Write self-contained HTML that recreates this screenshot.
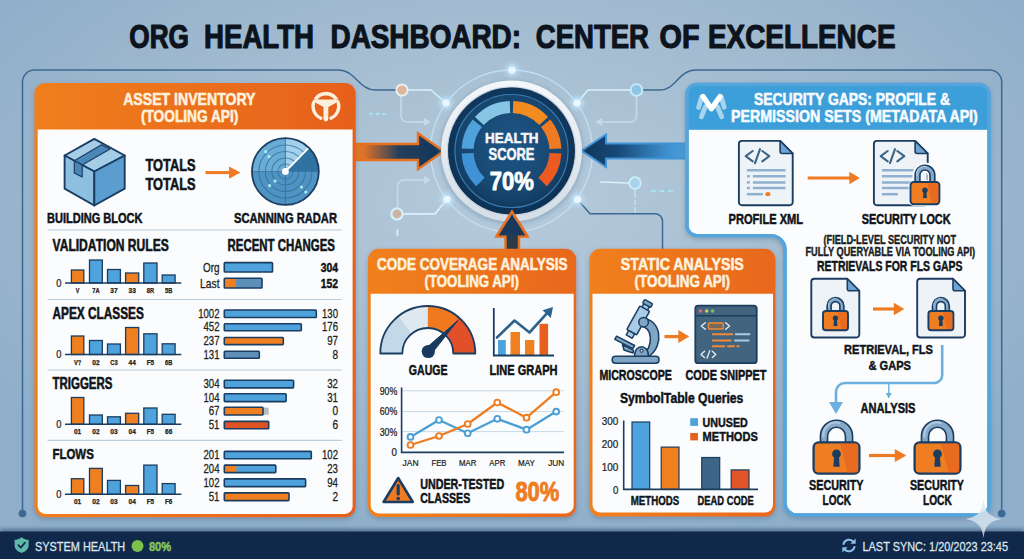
<!DOCTYPE html>
<html><head><meta charset="utf-8"><title>Org Health Dashboard</title>
<style>html,body{margin:0;padding:0;background:#9fb8cc;overflow:hidden}svg{display:block}text{font-family:"Liberation Sans",sans-serif}</style>
</head><body>
<svg width="1024" height="559" viewBox="0 0 1024 559" font-family="Liberation Sans, sans-serif">
<defs>
<radialGradient id="bg" cx="50%" cy="36%" r="62%"><stop offset="0" stop-color="#b6cbdc"/><stop offset="0.35" stop-color="#aac1d4"/><stop offset="0.75" stop-color="#9ab5cc"/><stop offset="1" stop-color="#8eaeca"/></radialGradient>
<linearGradient id="og" x1="0" y1="0" x2="1" y2="0"><stop offset="0" stop-color="#f07f1c"/><stop offset="1" stop-color="#e6601f"/></linearGradient>
<linearGradient id="og2" x1="0" y1="0" x2="1" y2="0"><stop offset="0" stop-color="#f0801d"/><stop offset="1" stop-color="#e8681e"/></linearGradient>
<linearGradient id="larrow" x1="0" y1="0" x2="1" y2="0"><stop offset="0" stop-color="#ee7a22"/><stop offset="0.12" stop-color="#d9702a"/><stop offset="0.5" stop-color="#24405c"/><stop offset="1" stop-color="#0f3559"/></linearGradient>
<linearGradient id="rarrow" x1="0" y1="0" x2="1" y2="0"><stop offset="0" stop-color="#0f3559"/><stop offset="0.35" stop-color="#174a7a"/><stop offset="0.8" stop-color="#3f8fce"/><stop offset="1" stop-color="#4aa0dc"/></linearGradient>
<radialGradient id="disc" cx="50%" cy="45%" r="55%"><stop offset="0" stop-color="#1e5787"/><stop offset="0.7" stop-color="#17466f"/><stop offset="1" stop-color="#0f3457"/></radialGradient>
<linearGradient id="ring" x1="0" y1="0" x2="0" y2="1"><stop offset="0" stop-color="#f4f7fa"/><stop offset="1" stop-color="#d3dde6"/></linearGradient>
<linearGradient id="uarrow" x1="0" y1="0" x2="0" y2="1"><stop offset="0" stop-color="#173a5e"/><stop offset="0.55" stop-color="#223c55"/><stop offset="1" stop-color="#33383d"/></linearGradient>
<filter id="sh" x="-5%" y="-5%" width="110%" height="112%"><feDropShadow dx="0" dy="2" stdDeviation="2.5" flood-color="#3a5570" flood-opacity="0.35"/></filter>
<filter id="glow" x="-100%" y="-100%" width="300%" height="300%"><feGaussianBlur stdDeviation="2"/></filter>
<filter id="soft" x="-5%" y="-5%" width="110%" height="110%"><feGaussianBlur stdDeviation="0.35"/></filter>
</defs>
<rect width="1024" height="559" fill="url(#bg)"/>
<text x="129.30" y="48.10" font-size="34" font-weight="bold" fill="#0c131d" text-anchor="start" textLength="59.70" lengthAdjust="spacingAndGlyphs" stroke="#0c131d" stroke-width="1.19" stroke-linejoin="round" >ORG</text>
<text x="204.00" y="48.10" font-size="34" font-weight="bold" fill="#0c131d" text-anchor="start" textLength="110.00" lengthAdjust="spacingAndGlyphs" stroke="#0c131d" stroke-width="1.19" stroke-linejoin="round" >HEALTH</text>
<text x="330.50" y="48.10" font-size="34" font-weight="bold" fill="#0c131d" text-anchor="start" textLength="190.50" lengthAdjust="spacingAndGlyphs" stroke="#0c131d" stroke-width="1.19" stroke-linejoin="round" >DASHBOARD:</text>
<text x="535.80" y="48.10" font-size="34" font-weight="bold" fill="#0c131d" text-anchor="start" textLength="113.20" lengthAdjust="spacingAndGlyphs" stroke="#0c131d" stroke-width="1.19" stroke-linejoin="round" >CENTER</text>
<text x="659.50" y="48.10" font-size="34" font-weight="bold" fill="#0c131d" text-anchor="start" textLength="40.00" lengthAdjust="spacingAndGlyphs" stroke="#0c131d" stroke-width="1.19" stroke-linejoin="round" >OF</text>
<text x="708.00" y="48.10" font-size="34" font-weight="bold" fill="#0c131d" text-anchor="start" textLength="187.50" lengthAdjust="spacingAndGlyphs" stroke="#0c131d" stroke-width="1.19" stroke-linejoin="round" >EXCELLENCE</text>
<path d="M22.5,513.5 V82 A12,12 0 0 1 34.5,70 H338 C356,70 358,90 376,90 H396.5" fill="none" stroke="#3b6993" stroke-width="1.5"/>
<circle cx="22.5" cy="513.5" r="3.8" fill="#3b6993"/>
<path d="M642.5,90 H660 C676,90 678,70 696,70 H989.7 A12,12 0 0 1 1001.7,82 V513.5" fill="none" stroke="#3b6993" stroke-width="1.5"/>
<circle cx="1001.7" cy="513.5" r="3.8" fill="#3b6993"/>
<path d="M577.5,199.5 L590,213.7 H655 A7.5,7.5 0 0 1 662.5,221 V250" fill="none" stroke="#3b6993" stroke-width="1.5"/>
<circle cx="511.5" cy="151" r="81" fill="none" stroke="#c3e3f6" stroke-width="1.4" opacity="0.85"/>
<path d="M408,90 H431 L446,103" fill="none" stroke="#d9f1fb" stroke-width="1.6"/>
<path d="M630,90 H588 L577,103" fill="none" stroke="#d9f1fb" stroke-width="1.6"/>
<path d="M403,213.9 H435 L447,199.5" fill="none" stroke="#d9f1fb" stroke-width="1.8"/>
<path d="M600,182 L629,183" fill="none" stroke="#d9f1fb" stroke-width="1.6"/>
<path d="M635,189 V213" fill="none" stroke="#bfe8f5" stroke-width="1.3" stroke-dasharray="9 2 5 2"/>
<path d="M397.4,229.5 V235.8" fill="none" stroke="#c9f3fa" stroke-width="2"/>
<path d="M401,96 V116 A6,6 0 0 0 407,122 H426" fill="none" stroke="#c6dbea" stroke-width="1.6"/>
<path d="M430.8,122 l-7,-4.2 v8.4 z" fill="#c6dbea"/>
<path d="M397.6,207 V186 A6,6 0 0 1 403.6,180 H425" fill="none" stroke="#c6dbea" stroke-width="1.6"/>
<path d="M430.8,180 l-7,-4.2 v8.4 z" fill="#c6dbea"/>
<path d="M636.5,96 V116 A6,6 0 0 1 630.5,122 H600" fill="none" stroke="#c6dbea" stroke-width="1.6"/>
<path d="M595.2,122 l7,-4.2 v8.4 z" fill="#c6dbea"/>
<rect x="369" y="112.7" width="4" height="2.2" rx="1" fill="#a5e3f2"/>
<rect x="375.5" y="112.7" width="4" height="2.2" rx="1" fill="#a5e3f2"/>
<rect x="382" y="112.7" width="4" height="2.2" rx="1" fill="#a5e3f2"/>
<rect x="651" y="190" width="5" height="2.2" rx="1" fill="#a5e3f2"/>
<rect x="659.5" y="190" width="5" height="2.2" rx="1" fill="#a5e3f2"/>
<rect x="668" y="190" width="5" height="2.2" rx="1" fill="#a5e3f2"/>
<circle cx="402" cy="90" r="5.6" fill="#dcb59c" stroke="#e6eef0" stroke-width="2"/>
<circle cx="397" cy="213.9" r="5.6" fill="#cdb3a4" stroke="#d3f3fb" stroke-width="2.2"/>
<circle cx="636.5" cy="90" r="5.8" fill="#8fc3e3" stroke="#c9ecfa" stroke-width="1.8"/>
<circle cx="635" cy="183" r="5.8" fill="#a9d3ea" stroke="#c9f0fa" stroke-width="1.8"/>
<circle cx="446" cy="103" r="6.5" fill="#bfe4fb" filter="url(#glow)" opacity="0.9"/>
<circle cx="446" cy="103" r="3.6" fill="#eaf7ff"/>
<circle cx="577" cy="103" r="6.5" fill="#bfe4fb" filter="url(#glow)" opacity="0.9"/>
<circle cx="577" cy="103" r="3.6" fill="#eaf7ff"/>
<circle cx="512" cy="70" r="6.5" fill="#bfe4fb" filter="url(#glow)" opacity="0.9"/>
<circle cx="512" cy="70" r="3.6" fill="#eaf7ff"/>
<circle cx="447" cy="199.5" r="6.5" fill="#bfe4fb" filter="url(#glow)" opacity="0.9"/>
<circle cx="447" cy="199.5" r="3.6" fill="#eaf7ff"/>
<circle cx="577.5" cy="199.5" r="6.5" fill="#bfe4fb" filter="url(#glow)" opacity="0.9"/>
<circle cx="577.5" cy="199.5" r="3.6" fill="#eaf7ff"/>
<path d="M354,144 H418 V133.2 L443.5,151.3 L418,169.2 V160 H354 Z" fill="url(#larrow)" stroke="#e8701f" stroke-width="2.4" stroke-linejoin="miter"/>
<path d="M688,143.5 H606 V134.5 L581.5,150.7 L606,167 V158.5 H688 Z" fill="url(#rarrow)" stroke="#3f93d6" stroke-width="2" stroke-linejoin="miter"/>
<path d="M505.5,252 V236.5 H496.5 L512,211.5 L527.5,236.5 H519 V252 Z" fill="url(#uarrow)" stroke="#e8701f" stroke-width="2.4" stroke-linejoin="miter"/>
<circle cx="511.5" cy="152.5" r="72" fill="#5f7f9c" opacity="0.35" filter="url(#glow)"/>
<circle cx="511.5" cy="151" r="70.5" fill="url(#ring)"/>
<circle cx="511.5" cy="151" r="64.6" fill="#c3d0dc"/>
<circle cx="511.5" cy="151" r="63.4" fill="url(#disc)"/>
<circle cx="511.5" cy="151" r="60" fill="none" stroke="#0d3052" stroke-width="6.5" opacity="0.55"/>
<circle cx="511.5" cy="151" r="56.5" fill="none" stroke="#3b82b8" stroke-width="1.2" opacity="0.9"/>
<path d="M480.39,182.11 A44,44 0 0 1 467.56,153.30" fill="none" stroke="#3f93d4" stroke-width="12" />
<path d="M467.56,148.70 A44,44 0 0 1 477.31,123.31" fill="none" stroke="#4fa2dc" stroke-width="12" />
<path d="M479.32,120.99 A44,44 0 0 1 509.96,107.03" fill="none" stroke="#86c6e4" stroke-width="12" />
<path d="M513.04,107.03 A44,44 0 0 1 543.68,120.99" fill="none" stroke="#f28c1f" stroke-width="12" />
<path d="M545.69,123.31 A44,44 0 0 1 555.44,148.70" fill="none" stroke="#f07a22" stroke-width="12" />
<path d="M555.44,153.30 A44,44 0 0 1 542.61,182.11" fill="none" stroke="#ea5b22" stroke-width="12" />
<text x="511.80" y="142.60" font-size="15.4" font-weight="bold" fill="#f4f7fa" text-anchor="middle" textLength="53.50" lengthAdjust="spacingAndGlyphs" stroke="#f4f7fa" stroke-width="0.54" stroke-linejoin="round" >HEALTH</text>
<text x="511.50" y="160.00" font-size="15.6" font-weight="bold" fill="#f4f7fa" text-anchor="middle" textLength="46.00" lengthAdjust="spacingAndGlyphs" stroke="#f4f7fa" stroke-width="0.55" stroke-linejoin="round" >SCORE</text>
<text x="511.80" y="190.00" font-size="25.5" font-weight="bold" fill="#ffffff" text-anchor="middle" textLength="44.00" lengthAdjust="spacingAndGlyphs" stroke="#ffffff" stroke-width="0.89" stroke-linejoin="round" >70%</text>
<path d="M498.8,235.3 L512,214 L525.2,235.3 Z" fill="#193a5c"/>
<path d="M496.5,236.5 L512,211.5 L527.5,236.5" fill="none" stroke="#e8701f" stroke-width="2.4"/>
<rect x="34.4" y="82.9" width="321.3" height="434.4" rx="11" fill="url(#og)" filter="url(#sh)"/>
<path d="M37.7,129.6 H352.6 V506.0 A8,8 0 0 1 344.6,514.0 H45.7 A8,8 0 0 1 37.7,506.0 Z" fill="#fbfcfd"/>
<rect x="368" y="248.8" width="208.20000000000005" height="268.2" rx="11" fill="url(#og2)" filter="url(#sh)"/>
<path d="M370.7,293.8 H573.7 V505.4 A8,8 0 0 1 565.7,513.4 H378.7 A8,8 0 0 1 370.7,505.4 Z" fill="#fbfcfd"/>
<rect x="589.5" y="248.8" width="186.0" height="267.8" rx="11" fill="url(#og2)" filter="url(#sh)"/>
<path d="M592.5,293.8 H773 V504.6 A8,8 0 0 1 765,512.6 H600.5 A8,8 0 0 1 592.5,504.6 Z" fill="#fbfcfd"/>
<clipPath id="Lc"><path d="M697,84.5 H979 A10,10 0 0 1 989,94.5 V505 A10,10 0 0 1 979,515 H797 A12,12 0 0 1 785,503 V249.6 A14,14 0 0 0 771,235.6 H697 A10,10 0 0 1 687,225.6 V94.5 A10,10 0 0 1 697,84.5 Z"/></clipPath>
<path d="M697,84.5 H979 A10,10 0 0 1 989,94.5 V505 A10,10 0 0 1 979,515 H797 A12,12 0 0 1 785,503 V249.6 A14,14 0 0 0 771,235.6 H697 A10,10 0 0 1 687,225.6 V94.5 A10,10 0 0 1 697,84.5 Z" fill="#fbfcfd" stroke="#5aa8dd" stroke-width="3.4" filter="url(#sh)"/>
<rect x="685" y="83" width="306" height="46.8" fill="#3d9fd9" clip-path="url(#Lc)"/>
<path d="M697,84.5 H979 A10,10 0 0 1 989,94.5 V505 A10,10 0 0 1 979,515 H797 A12,12 0 0 1 785,503 V249.6 A14,14 0 0 0 771,235.6 H697 A10,10 0 0 1 687,225.6 V94.5 A10,10 0 0 1 697,84.5 Z" fill="none" stroke="#55a5dc" stroke-width="3.4"/>
<rect x="0" y="529.5" width="1024" height="4" fill="#10294a" filter="url(#glow)" opacity="0.6"/>
<rect x="0" y="531.5" width="1024" height="28" fill="#10294a"/>
<text x="123.20" y="104.50" font-size="16.2" font-weight="bold" fill="#fdf1de" text-anchor="start" textLength="132.30" lengthAdjust="spacingAndGlyphs" stroke="#fdf1de" stroke-width="0.57" stroke-linejoin="round" >ASSET INVENTORY</text>
<text x="140.90" y="121.80" font-size="15.6" font-weight="bold" fill="#fdf1de" text-anchor="start" textLength="97.50" lengthAdjust="spacingAndGlyphs" stroke="#fdf1de" stroke-width="0.55" stroke-linejoin="round" >(TOOLING API)</text>
<path d="M315.25,99.38 A12.7,12.7 0 0 1 336.55,99.38" fill="none" stroke="#fdf1de" stroke-width="3.6" />
<path d="M313.50,102.74 A12.9,12.9 0 0 0 320.86,118.17" fill="none" stroke="#fdf1de" stroke-width="3.3" stroke-linecap="round"/>
<path d="M338.30,102.74 A12.9,12.9 0 0 1 330.94,118.17" fill="none" stroke="#fdf1de" stroke-width="3.3" stroke-linecap="round"/>
<path d="M313.6,99.4 H338.2 Q339.6,100.6 338.4,101.6 L328.3,107 V119 A2.4,2.4 0 0 1 323.5,119 V107 L313.4,101.6 Q312.2,100.6 313.6,99.4 Z" fill="#fdf1de"/>
<g stroke="#1b3d61" stroke-width="1.9" stroke-linejoin="round">
<path d="M94.3,138.9 L124.7,155.5 L94.3,171.5 L64.6,155.5 Z" fill="#a6cde8"/>
<path d="M64.6,155.5 L94.3,171.5 V205.5 L64.6,188.7 Z" fill="#8dbfe1"/>
<path d="M124.7,155.5 L94.3,171.5 V205.5 L124.7,188.7 Z" fill="#5c9dd0"/>
<path d="M74.3,160.8 L82.2,164.9 L110.1,149 L101.5,144.7 Z" fill="#4a87b8" stroke-width="1.2"/>
<path d="M74.3,160.8 L82.2,164.9 V177 L74.3,173 Z" fill="#4a87b8" stroke-width="1.2"/>
</g>
<text x="145.50" y="171.20" font-size="16" font-weight="bold" fill="#101418" text-anchor="start" textLength="50.00" lengthAdjust="spacingAndGlyphs" stroke="#101418" stroke-width="0.56" stroke-linejoin="round" >TOTALS</text>
<text x="145.50" y="189.60" font-size="16" font-weight="bold" fill="#101418" text-anchor="start" textLength="50.00" lengthAdjust="spacingAndGlyphs" stroke="#101418" stroke-width="0.56" stroke-linejoin="round" >TOTALS</text>
<path d="M205.5,172.6 H230.0" stroke="#ee7a22" stroke-width="3" fill="none"/>
<path d="M240.5,172.6 l-11.5,-6.1 v12.2 z" fill="#ee7a22"/>
<clipPath id="rc"><circle cx="285.4" cy="171.5" r="33.4"/></clipPath>
<g clip-path="url(#rc)"><rect x="251.99999999999997" y="138.1" width="66.8" height="33.4" fill="#6cadd6"/><rect x="251.99999999999997" y="171.5" width="66.8" height="33.4" fill="#4f93c2"/>
<path d="M285.4,171.5 L285.4,136.1 L314.2,136.1 L314.2,141.7 Z" fill="#a3d0ea"/>
<path d="M285.4,171.5 L314.2,141.7 L326.8,141.7 L326.8,171.5 Z" fill="#2f73a3"/>
<circle cx="285.4" cy="171.5" r="7.5" fill="none" stroke="#2f6f9f" stroke-width="1.1" opacity="0.75"/>
<circle cx="285.4" cy="171.5" r="13.5" fill="none" stroke="#2f6f9f" stroke-width="1.1" opacity="0.75"/>
<circle cx="285.4" cy="171.5" r="20" fill="none" stroke="#2f6f9f" stroke-width="1.1" opacity="0.75"/>
<circle cx="285.4" cy="171.5" r="26.5" fill="none" stroke="#2f6f9f" stroke-width="1.1" opacity="0.75"/>
<path d="M251.99999999999997,171.5 H318.79999999999995 M285.4,138.1 V204.9" stroke="#2f6f9f" stroke-width="1.1" opacity="0.75"/></g>
<circle cx="285.4" cy="171.5" r="33.4" fill="none" stroke="#1b3d61" stroke-width="1.8"/>
<path d="M285.4,171.5 L307.7,148.9" stroke="#ffffff" stroke-width="1.8" stroke-linecap="round"/>
<circle cx="285.4" cy="171.5" r="3.4" fill="#ffffff"/>
<circle cx="265.7" cy="151.7" r="1.6" fill="#a8ecf7"/>
<circle cx="269" cy="156.6" r="1.6" fill="#a8ecf7"/>
<circle cx="275" cy="181" r="1.6" fill="#a8ecf7"/>
<circle cx="269.6" cy="185.6" r="1.6" fill="#a8ecf7"/>
<circle cx="301.5" cy="187" r="1.6" fill="#a8ecf7"/>
<circle cx="305.8" cy="192" r="1.6" fill="#a8ecf7"/>
<text x="47.00" y="222.60" font-size="14.6" font-weight="bold" fill="#101418" text-anchor="start" textLength="95.50" lengthAdjust="spacingAndGlyphs" stroke="#101418" stroke-width="0.51" stroke-linejoin="round" >BUILDING BLOCK</text>
<text x="234.00" y="222.60" font-size="14.6" font-weight="bold" fill="#101418" text-anchor="start" textLength="103.00" lengthAdjust="spacingAndGlyphs" stroke="#101418" stroke-width="0.51" stroke-linejoin="round" >SCANNING RADAR</text>
<path d="M47.5,230 H342" stroke="#b9cfdf" stroke-width="1.2"/>
<path d="M47.5,299.5 H342" stroke="#b9cfdf" stroke-width="1.2"/>
<path d="M47.5,370 H342" stroke="#b9cfdf" stroke-width="1.2"/>
<path d="M47.5,440.3 H342" stroke="#b9cfdf" stroke-width="1.2"/>
<text x="52.50" y="250.80" font-size="15.6" font-weight="bold" fill="#101418" text-anchor="start" textLength="116.30" lengthAdjust="spacingAndGlyphs" stroke="#101418" stroke-width="0.55" stroke-linejoin="round" >VALIDATION RULES</text>
<text x="227.50" y="250.80" font-size="15.6" font-weight="bold" fill="#101418" text-anchor="start" textLength="107.50" lengthAdjust="spacingAndGlyphs" stroke="#101418" stroke-width="0.55" stroke-linejoin="round" >RECENT CHANGES</text>
<text x="52.50" y="318.80" font-size="15.6" font-weight="bold" fill="#101418" text-anchor="start" textLength="91.30" lengthAdjust="spacingAndGlyphs" stroke="#101418" stroke-width="0.55" stroke-linejoin="round" >APEX CLASSES</text>
<text x="52.50" y="388.80" font-size="15.6" font-weight="bold" fill="#101418" text-anchor="start" textLength="60.00" lengthAdjust="spacingAndGlyphs" stroke="#101418" stroke-width="0.55" stroke-linejoin="round" >TRIGGERS</text>
<text x="52.50" y="459.20" font-size="15.2" font-weight="bold" fill="#101418" text-anchor="start" textLength="41.30" lengthAdjust="spacingAndGlyphs" stroke="#101418" stroke-width="0.53" stroke-linejoin="round" >FLOWS</text>
<rect x="71.4" y="270" width="12.4" height="13.0" fill="#f0801f" stroke="#1b3d61" stroke-width="1.3"/>
<rect x="89.5" y="260" width="12.8" height="23.0" fill="#4fa3dc" stroke="#1b3d61" stroke-width="1.3"/>
<rect x="107.5" y="269.5" width="12.9" height="13.5" fill="#4fa3dc" stroke="#1b3d61" stroke-width="1.3"/>
<rect x="125.6" y="273" width="13.1" height="10.0" fill="#f0801f" stroke="#1b3d61" stroke-width="1.3"/>
<rect x="143.8" y="263" width="13.2" height="20.0" fill="#4fa3dc" stroke="#1b3d61" stroke-width="1.3"/>
<rect x="162.2" y="275" width="12.9" height="8.0" fill="#4fa3dc" stroke="#1b3d61" stroke-width="1.3"/>
<path d="M65,283 H181.3" stroke="#1b3d61" stroke-width="1.5"/>
<text x="61.40" y="286.60" font-size="10.6" font-weight="normal" fill="#222" text-anchor="end" textLength="5.20" lengthAdjust="spacingAndGlyphs" stroke="#222" stroke-width="0.23" stroke-linejoin="round" >0</text>
<text x="77.60" y="293.00" font-size="7.1" font-weight="bold" fill="#222" text-anchor="middle" textLength="3.60" lengthAdjust="spacingAndGlyphs" stroke="#222" stroke-width="0.25" stroke-linejoin="round" >V</text>
<text x="95.90" y="293.00" font-size="7.1" font-weight="bold" fill="#222" text-anchor="middle" textLength="7.30" lengthAdjust="spacingAndGlyphs" stroke="#222" stroke-width="0.25" stroke-linejoin="round" >7A</text>
<text x="113.95" y="293.00" font-size="7.1" font-weight="bold" fill="#222" text-anchor="middle" textLength="7.30" lengthAdjust="spacingAndGlyphs" stroke="#222" stroke-width="0.25" stroke-linejoin="round" >37</text>
<text x="132.15" y="293.00" font-size="7.1" font-weight="bold" fill="#222" text-anchor="middle" textLength="7.30" lengthAdjust="spacingAndGlyphs" stroke="#222" stroke-width="0.25" stroke-linejoin="round" >33</text>
<text x="150.40" y="293.00" font-size="7.1" font-weight="bold" fill="#222" text-anchor="middle" textLength="7.30" lengthAdjust="spacingAndGlyphs" stroke="#222" stroke-width="0.25" stroke-linejoin="round" >8R</text>
<text x="168.65" y="293.00" font-size="7.1" font-weight="bold" fill="#222" text-anchor="middle" textLength="7.30" lengthAdjust="spacingAndGlyphs" stroke="#222" stroke-width="0.25" stroke-linejoin="round" >5B</text>
<rect x="71.4" y="336" width="12.4" height="18.5" fill="#f0801f" stroke="#1b3d61" stroke-width="1.3"/>
<rect x="89.5" y="340.5" width="12.8" height="14.0" fill="#4fa3dc" stroke="#1b3d61" stroke-width="1.3"/>
<rect x="107.5" y="344" width="12.9" height="10.5" fill="#4fa3dc" stroke="#1b3d61" stroke-width="1.3"/>
<rect x="125.6" y="327.5" width="13.1" height="27.0" fill="#f0801f" stroke="#1b3d61" stroke-width="1.3"/>
<rect x="143.8" y="333.8" width="13.2" height="20.7" fill="#4fa3dc" stroke="#1b3d61" stroke-width="1.3"/>
<rect x="162.2" y="343.8" width="12.9" height="10.7" fill="#4fa3dc" stroke="#1b3d61" stroke-width="1.3"/>
<path d="M65,354.5 H181.3" stroke="#1b3d61" stroke-width="1.5"/>
<text x="61.40" y="358.10" font-size="10.6" font-weight="normal" fill="#222" text-anchor="end" textLength="5.20" lengthAdjust="spacingAndGlyphs" stroke="#222" stroke-width="0.23" stroke-linejoin="round" >0</text>
<text x="77.60" y="364.50" font-size="7.1" font-weight="bold" fill="#222" text-anchor="middle" textLength="7.30" lengthAdjust="spacingAndGlyphs" stroke="#222" stroke-width="0.25" stroke-linejoin="round" >V?</text>
<text x="95.90" y="364.50" font-size="7.1" font-weight="bold" fill="#222" text-anchor="middle" textLength="7.30" lengthAdjust="spacingAndGlyphs" stroke="#222" stroke-width="0.25" stroke-linejoin="round" >02</text>
<text x="113.95" y="364.50" font-size="7.1" font-weight="bold" fill="#222" text-anchor="middle" textLength="7.30" lengthAdjust="spacingAndGlyphs" stroke="#222" stroke-width="0.25" stroke-linejoin="round" >C3</text>
<text x="132.15" y="364.50" font-size="7.1" font-weight="bold" fill="#222" text-anchor="middle" textLength="7.30" lengthAdjust="spacingAndGlyphs" stroke="#222" stroke-width="0.25" stroke-linejoin="round" >44</text>
<text x="150.40" y="364.50" font-size="7.1" font-weight="bold" fill="#222" text-anchor="middle" textLength="7.30" lengthAdjust="spacingAndGlyphs" stroke="#222" stroke-width="0.25" stroke-linejoin="round" >F5</text>
<text x="168.65" y="364.50" font-size="7.1" font-weight="bold" fill="#222" text-anchor="middle" textLength="7.30" lengthAdjust="spacingAndGlyphs" stroke="#222" stroke-width="0.25" stroke-linejoin="round" >6B</text>
<rect x="71.4" y="397.5" width="12.4" height="26.8" fill="#f0801f" stroke="#1b3d61" stroke-width="1.3"/>
<rect x="89.5" y="415" width="12.8" height="9.3" fill="#4fa3dc" stroke="#1b3d61" stroke-width="1.3"/>
<rect x="107.5" y="416.8" width="12.9" height="7.5" fill="#4fa3dc" stroke="#1b3d61" stroke-width="1.3"/>
<rect x="125.6" y="413.3" width="13.1" height="11.0" fill="#f0801f" stroke="#1b3d61" stroke-width="1.3"/>
<rect x="143.8" y="408" width="13.2" height="16.3" fill="#4fa3dc" stroke="#1b3d61" stroke-width="1.3"/>
<rect x="162.2" y="414.3" width="12.9" height="10.0" fill="#4fa3dc" stroke="#1b3d61" stroke-width="1.3"/>
<path d="M65,424.3 H181.3" stroke="#1b3d61" stroke-width="1.5"/>
<text x="61.40" y="427.90" font-size="10.6" font-weight="normal" fill="#222" text-anchor="end" textLength="5.20" lengthAdjust="spacingAndGlyphs" stroke="#222" stroke-width="0.23" stroke-linejoin="round" >0</text>
<text x="77.60" y="434.30" font-size="7.1" font-weight="bold" fill="#222" text-anchor="middle" textLength="7.30" lengthAdjust="spacingAndGlyphs" stroke="#222" stroke-width="0.25" stroke-linejoin="round" >01</text>
<text x="95.90" y="434.30" font-size="7.1" font-weight="bold" fill="#222" text-anchor="middle" textLength="7.30" lengthAdjust="spacingAndGlyphs" stroke="#222" stroke-width="0.25" stroke-linejoin="round" >02</text>
<text x="113.95" y="434.30" font-size="7.1" font-weight="bold" fill="#222" text-anchor="middle" textLength="7.30" lengthAdjust="spacingAndGlyphs" stroke="#222" stroke-width="0.25" stroke-linejoin="round" >03</text>
<text x="132.15" y="434.30" font-size="7.1" font-weight="bold" fill="#222" text-anchor="middle" textLength="7.30" lengthAdjust="spacingAndGlyphs" stroke="#222" stroke-width="0.25" stroke-linejoin="round" >04</text>
<text x="150.40" y="434.30" font-size="7.1" font-weight="bold" fill="#222" text-anchor="middle" textLength="7.30" lengthAdjust="spacingAndGlyphs" stroke="#222" stroke-width="0.25" stroke-linejoin="round" >F5</text>
<text x="168.65" y="434.30" font-size="7.1" font-weight="bold" fill="#222" text-anchor="middle" textLength="7.30" lengthAdjust="spacingAndGlyphs" stroke="#222" stroke-width="0.25" stroke-linejoin="round" >66</text>
<rect x="71.4" y="478.7" width="12.4" height="15.6" fill="#f0801f" stroke="#1b3d61" stroke-width="1.3"/>
<rect x="89.5" y="468.4" width="12.8" height="25.9" fill="#f0801f" stroke="#1b3d61" stroke-width="1.3"/>
<rect x="107.5" y="480.4" width="12.9" height="13.9" fill="#4fa3dc" stroke="#1b3d61" stroke-width="1.3"/>
<rect x="125.6" y="485.5" width="13.1" height="8.8" fill="#f0801f" stroke="#1b3d61" stroke-width="1.3"/>
<rect x="143.8" y="465.1" width="13.2" height="29.2" fill="#4fa3dc" stroke="#1b3d61" stroke-width="1.3"/>
<rect x="162.2" y="483.6" width="12.9" height="10.7" fill="#4fa3dc" stroke="#1b3d61" stroke-width="1.3"/>
<path d="M65,494.3 H181.3" stroke="#1b3d61" stroke-width="1.5"/>
<text x="61.40" y="497.90" font-size="10.6" font-weight="normal" fill="#222" text-anchor="end" textLength="5.20" lengthAdjust="spacingAndGlyphs" stroke="#222" stroke-width="0.23" stroke-linejoin="round" >0</text>
<text x="77.60" y="504.30" font-size="7.1" font-weight="bold" fill="#222" text-anchor="middle" textLength="7.30" lengthAdjust="spacingAndGlyphs" stroke="#222" stroke-width="0.25" stroke-linejoin="round" >01</text>
<text x="95.90" y="504.30" font-size="7.1" font-weight="bold" fill="#222" text-anchor="middle" textLength="7.30" lengthAdjust="spacingAndGlyphs" stroke="#222" stroke-width="0.25" stroke-linejoin="round" >02</text>
<text x="113.95" y="504.30" font-size="7.1" font-weight="bold" fill="#222" text-anchor="middle" textLength="7.30" lengthAdjust="spacingAndGlyphs" stroke="#222" stroke-width="0.25" stroke-linejoin="round" >03</text>
<text x="132.15" y="504.30" font-size="7.1" font-weight="bold" fill="#222" text-anchor="middle" textLength="7.30" lengthAdjust="spacingAndGlyphs" stroke="#222" stroke-width="0.25" stroke-linejoin="round" >04</text>
<text x="150.40" y="504.30" font-size="7.1" font-weight="bold" fill="#222" text-anchor="middle" textLength="7.30" lengthAdjust="spacingAndGlyphs" stroke="#222" stroke-width="0.25" stroke-linejoin="round" >F5</text>
<text x="168.65" y="504.30" font-size="7.1" font-weight="bold" fill="#222" text-anchor="middle" textLength="7.30" lengthAdjust="spacingAndGlyphs" stroke="#222" stroke-width="0.25" stroke-linejoin="round" >F6</text>
<text x="219.50" y="272.20" font-size="12.2" font-weight="normal" fill="#222" text-anchor="end" textLength="16.50" lengthAdjust="spacingAndGlyphs" stroke="#222" stroke-width="0.27" stroke-linejoin="round" >Org</text>
<rect x="224.3" y="262.6" width="48.2" height="9.4" fill="#4fa3dc"/>
<rect x="224.3" y="262.6" width="48.2" height="9.4" fill="none" stroke="#1b3d61" stroke-width="1.6" rx="0.8"/>
<text x="338.00" y="272.20" font-size="12.2" font-weight="bold" fill="#111" text-anchor="end" textLength="17.28" lengthAdjust="spacingAndGlyphs" stroke="#111" stroke-width="0.43" stroke-linejoin="round" >304</text>
<text x="219.50" y="288.20" font-size="12.2" font-weight="normal" fill="#222" text-anchor="end" textLength="19.50" lengthAdjust="spacingAndGlyphs" stroke="#222" stroke-width="0.27" stroke-linejoin="round" >Last</text>
<rect x="224.3" y="278.3" width="37.7" height="9.7" fill="#5d8fb8"/>
<rect x="224.3" y="278.3" width="11.5" height="9.7" fill="#f0801f"/>
<rect x="224.3" y="278.3" width="37.7" height="9.7" fill="none" stroke="#1b3d61" stroke-width="1.6" rx="0.8"/>
<text x="338.00" y="288.20" font-size="12.2" font-weight="bold" fill="#111" text-anchor="end" textLength="17.28" lengthAdjust="spacingAndGlyphs" stroke="#111" stroke-width="0.43" stroke-linejoin="round" >152</text>
<text x="219.50" y="317.70" font-size="12.2" font-weight="normal" fill="#222" text-anchor="end" textLength="21.30" lengthAdjust="spacingAndGlyphs" stroke="#222" stroke-width="0.27" stroke-linejoin="round" >1002</text>
<rect x="224.3" y="310" width="92.0" height="7.5" fill="#4fa3dc"/>
<rect x="224.3" y="310" width="92.0" height="7.5" fill="none" stroke="#1b3d61" stroke-width="1.6" rx="0.8"/>
<text x="338.00" y="317.70" font-size="12.2" font-weight="normal" fill="#222" text-anchor="end" textLength="16.00" lengthAdjust="spacingAndGlyphs" stroke="#222" stroke-width="0.27" stroke-linejoin="round" >130</text>
<text x="219.50" y="331.00" font-size="12.2" font-weight="normal" fill="#222" text-anchor="end" textLength="16.00" lengthAdjust="spacingAndGlyphs" stroke="#222" stroke-width="0.27" stroke-linejoin="round" >452</text>
<rect x="224.3" y="323.7" width="77.0" height="7.1" fill="#4fa3dc"/>
<rect x="224.3" y="323.7" width="77.0" height="7.1" fill="none" stroke="#1b3d61" stroke-width="1.6" rx="0.8"/>
<text x="338.00" y="331.00" font-size="12.2" font-weight="normal" fill="#222" text-anchor="end" textLength="16.00" lengthAdjust="spacingAndGlyphs" stroke="#222" stroke-width="0.27" stroke-linejoin="round" >176</text>
<text x="219.50" y="344.80" font-size="12.2" font-weight="normal" fill="#222" text-anchor="end" textLength="16.00" lengthAdjust="spacingAndGlyphs" stroke="#222" stroke-width="0.27" stroke-linejoin="round" >237</text>
<rect x="224.3" y="337.5" width="59.0" height="7.1" fill="#f0801f"/>
<rect x="224.3" y="337.5" width="59.0" height="7.1" fill="none" stroke="#1b3d61" stroke-width="1.6" rx="0.8"/>
<text x="338.00" y="344.80" font-size="12.2" font-weight="normal" fill="#222" text-anchor="end" textLength="10.80" lengthAdjust="spacingAndGlyphs" stroke="#222" stroke-width="0.27" stroke-linejoin="round" >97</text>
<text x="219.50" y="358.50" font-size="12.2" font-weight="normal" fill="#222" text-anchor="end" textLength="16.00" lengthAdjust="spacingAndGlyphs" stroke="#222" stroke-width="0.27" stroke-linejoin="round" >131</text>
<rect x="224.3" y="351.3" width="35.0" height="7.0" fill="#5d8fb8"/>
<rect x="224.3" y="351.3" width="35.0" height="7.0" fill="none" stroke="#1b3d61" stroke-width="1.6" rx="0.8"/>
<text x="338.00" y="358.50" font-size="12.2" font-weight="normal" fill="#222" text-anchor="end" textLength="5.60" lengthAdjust="spacingAndGlyphs" stroke="#222" stroke-width="0.27" stroke-linejoin="round" >8</text>
<text x="219.50" y="388.10" font-size="12.2" font-weight="normal" fill="#222" text-anchor="end" textLength="16.00" lengthAdjust="spacingAndGlyphs" stroke="#222" stroke-width="0.27" stroke-linejoin="round" >304</text>
<rect x="224.3" y="380.2" width="69.3" height="7.7" fill="#4fa3dc"/>
<rect x="224.3" y="380.2" width="69.3" height="7.7" fill="none" stroke="#1b3d61" stroke-width="1.6" rx="0.8"/>
<text x="338.00" y="388.10" font-size="12.2" font-weight="normal" fill="#222" text-anchor="end" textLength="10.80" lengthAdjust="spacingAndGlyphs" stroke="#222" stroke-width="0.27" stroke-linejoin="round" >32</text>
<text x="219.50" y="401.80" font-size="12.2" font-weight="normal" fill="#222" text-anchor="end" textLength="16.00" lengthAdjust="spacingAndGlyphs" stroke="#222" stroke-width="0.27" stroke-linejoin="round" >104</text>
<rect x="224.3" y="393.8" width="61.8" height="7.8" fill="#4fa3dc"/>
<rect x="224.3" y="393.8" width="61.8" height="7.8" fill="none" stroke="#1b3d61" stroke-width="1.6" rx="0.8"/>
<text x="338.00" y="401.80" font-size="12.2" font-weight="normal" fill="#222" text-anchor="end" textLength="10.80" lengthAdjust="spacingAndGlyphs" stroke="#222" stroke-width="0.27" stroke-linejoin="round" >31</text>
<rect x="262" y="407.6" width="6.7" height="7.2" fill="#b5bcc2"/>
<text x="219.50" y="415.20" font-size="12.2" font-weight="normal" fill="#222" text-anchor="end" textLength="10.80" lengthAdjust="spacingAndGlyphs" stroke="#222" stroke-width="0.27" stroke-linejoin="round" >67</text>
<rect x="224.3" y="407.3" width="38.7" height="7.7" fill="#f0801f"/>
<rect x="224.3" y="407.3" width="38.7" height="7.7" fill="none" stroke="#1b3d61" stroke-width="1.6" rx="0.8"/>
<text x="338.00" y="415.20" font-size="12.2" font-weight="normal" fill="#222" text-anchor="end" textLength="5.60" lengthAdjust="spacingAndGlyphs" stroke="#222" stroke-width="0.27" stroke-linejoin="round" >0</text>
<text x="219.50" y="429.00" font-size="12.2" font-weight="normal" fill="#222" text-anchor="end" textLength="10.80" lengthAdjust="spacingAndGlyphs" stroke="#222" stroke-width="0.27" stroke-linejoin="round" >51</text>
<rect x="224.3" y="421.4" width="44.4" height="7.4" fill="#df5322"/>
<rect x="224.3" y="421.4" width="44.4" height="7.4" fill="none" stroke="#1b3d61" stroke-width="1.6" rx="0.8"/>
<text x="338.00" y="429.00" font-size="12.2" font-weight="normal" fill="#222" text-anchor="end" textLength="5.60" lengthAdjust="spacingAndGlyphs" stroke="#222" stroke-width="0.27" stroke-linejoin="round" >6</text>
<text x="219.50" y="459.00" font-size="12.2" font-weight="normal" fill="#222" text-anchor="end" textLength="16.00" lengthAdjust="spacingAndGlyphs" stroke="#222" stroke-width="0.27" stroke-linejoin="round" >201</text>
<rect x="224.3" y="451.4" width="87.0" height="7.4" fill="#4fa3dc"/>
<rect x="224.3" y="451.4" width="87.0" height="7.4" fill="none" stroke="#1b3d61" stroke-width="1.6" rx="0.8"/>
<text x="338.00" y="459.00" font-size="12.2" font-weight="normal" fill="#222" text-anchor="end" textLength="16.00" lengthAdjust="spacingAndGlyphs" stroke="#222" stroke-width="0.27" stroke-linejoin="round" >102</text>
<text x="219.50" y="472.80" font-size="12.2" font-weight="normal" fill="#222" text-anchor="end" textLength="16.00" lengthAdjust="spacingAndGlyphs" stroke="#222" stroke-width="0.27" stroke-linejoin="round" >204</text>
<rect x="224.3" y="465.1" width="51.5" height="7.5" fill="#4fa3dc"/>
<rect x="224.3" y="465.1" width="12.1" height="7.5" fill="#f0801f"/>
<rect x="224.3" y="465.1" width="51.5" height="7.5" fill="none" stroke="#1b3d61" stroke-width="1.6" rx="0.8"/>
<text x="338.00" y="472.80" font-size="12.2" font-weight="normal" fill="#222" text-anchor="end" textLength="10.80" lengthAdjust="spacingAndGlyphs" stroke="#222" stroke-width="0.27" stroke-linejoin="round" >23</text>
<text x="219.50" y="486.80" font-size="12.2" font-weight="normal" fill="#222" text-anchor="end" textLength="16.00" lengthAdjust="spacingAndGlyphs" stroke="#222" stroke-width="0.27" stroke-linejoin="round" >102</text>
<rect x="224.3" y="478.9" width="81.3" height="7.7" fill="#4fa3dc"/>
<rect x="224.3" y="478.9" width="81.3" height="7.7" fill="none" stroke="#1b3d61" stroke-width="1.6" rx="0.8"/>
<text x="338.00" y="486.80" font-size="12.2" font-weight="normal" fill="#222" text-anchor="end" textLength="10.80" lengthAdjust="spacingAndGlyphs" stroke="#222" stroke-width="0.27" stroke-linejoin="round" >94</text>
<text x="219.50" y="500.80" font-size="12.2" font-weight="normal" fill="#222" text-anchor="end" textLength="10.80" lengthAdjust="spacingAndGlyphs" stroke="#222" stroke-width="0.27" stroke-linejoin="round" >51</text>
<rect x="224.3" y="492.9" width="64.7" height="7.7" fill="#f0801f"/>
<rect x="224.3" y="492.9" width="64.7" height="7.7" fill="none" stroke="#1b3d61" stroke-width="1.6" rx="0.8"/>
<text x="338.00" y="500.80" font-size="12.2" font-weight="normal" fill="#222" text-anchor="end" textLength="5.60" lengthAdjust="spacingAndGlyphs" stroke="#222" stroke-width="0.27" stroke-linejoin="round" >2</text>
<text x="377.00" y="269.50" font-size="16.2" font-weight="bold" fill="#fdf1de" text-anchor="start" textLength="190.50" lengthAdjust="spacingAndGlyphs" stroke="#fdf1de" stroke-width="0.57" stroke-linejoin="round" >CODE COVERAGE ANALYSIS</text>
<text x="424.50" y="286.60" font-size="15.6" font-weight="bold" fill="#fdf1de" text-anchor="start" textLength="94.30" lengthAdjust="spacingAndGlyphs" stroke="#fdf1de" stroke-width="0.55" stroke-linejoin="round" >(TOOLING API)</text>
<path d="M380.30,353.50 A47.5,47.5 0 0 1 398.56,316.07 L412.10,333.41 A25.5,25.5 0 0 0 402.30,353.50 Z" fill="#c3d8e8"/>
<path d="M398.56,316.07 A47.5,47.5 0 0 1 427.80,306.00 L427.80,328.00 A25.5,25.5 0 0 0 412.10,333.41 Z" fill="#dde8f0"/>
<path d="M427.80,306.00 A47.5,47.5 0 0 1 458.33,317.11 L444.19,333.97 A25.5,25.5 0 0 0 427.80,328.00 Z" fill="#f0781f"/>
<path d="M458.33,317.11 A47.5,47.5 0 0 1 475.30,353.50 L453.30,353.50 A25.5,25.5 0 0 0 444.19,333.97 Z" fill="#e2502a"/>
<path d="M380.30,353.50 A47.5,47.5 0 0 1 475.30,353.50 L453.30,353.50 A25.5,25.5 0 0 0 402.30,353.50 Z" fill="none" stroke="#1b3d61" stroke-width="1.8" stroke-linejoin="round"/>
<path d="M425.6,348.6 L457.6,320.8 L431.4,354 Z" fill="#173a5e" stroke="#173a5e" stroke-width="1" stroke-linejoin="round"/>
<circle cx="428.3" cy="351.5" r="6.6" fill="#173a5e"/>
<text x="408.80" y="375.30" font-size="14.2" font-weight="bold" fill="#101418" text-anchor="start" textLength="38.70" lengthAdjust="spacingAndGlyphs" stroke="#101418" stroke-width="0.50" stroke-linejoin="round" >GAUGE</text>
<text x="489.50" y="375.30" font-size="14.2" font-weight="bold" fill="#101418" text-anchor="start" textLength="68.00" lengthAdjust="spacingAndGlyphs" stroke="#101418" stroke-width="0.50" stroke-linejoin="round" >LINE GRAPH</text>
<rect x="498" y="340" width="7.8" height="15" fill="#4fa3dc"/><rect x="510.5" y="332" width="9.5" height="23" fill="#f0801f"/><rect x="525" y="340" width="9.3" height="15" fill="#f0801f"/><rect x="539.5" y="323.8" width="8.6" height="31.2" fill="#e8601f"/>
<path d="M493.8,308 V355.5 H554" fill="none" stroke="#1b3d61" stroke-width="1.8"/>
<path d="M497,337.5 L514.5,320.5 L529.5,332.5 L548,312.2" fill="none" stroke="#2d628c" stroke-width="2.6" stroke-linejoin="round" stroke-linecap="round"/>
<path d="M553,307 L550.8,318 L542.5,310.3 Z" fill="#2d628c"/>
<path d="M402,390.8 H564" stroke="#c9d9e6" stroke-width="1"/>
<path d="M402,411.6 H564" stroke="#c9d9e6" stroke-width="1"/>
<path d="M402,431.6 H564" stroke="#c9d9e6" stroke-width="1"/>
<path d="M401.6,387.5 V452.4 H564" fill="none" stroke="#1b3d61" stroke-width="1.6"/>
<text x="397.30" y="394.60" font-size="10.9" font-weight="normal" fill="#1a1a1a" text-anchor="end" textLength="17.60" lengthAdjust="spacingAndGlyphs" stroke="#1a1a1a" stroke-width="0.24" stroke-linejoin="round" >90%</text>
<text x="397.30" y="415.30" font-size="10.9" font-weight="normal" fill="#1a1a1a" text-anchor="end" textLength="17.60" lengthAdjust="spacingAndGlyphs" stroke="#1a1a1a" stroke-width="0.24" stroke-linejoin="round" >60%</text>
<text x="397.30" y="435.50" font-size="10.9" font-weight="normal" fill="#1a1a1a" text-anchor="end" textLength="17.60" lengthAdjust="spacingAndGlyphs" stroke="#1a1a1a" stroke-width="0.24" stroke-linejoin="round" >30%</text>
<text x="397.00" y="456.30" font-size="10.9" font-weight="normal" fill="#1a1a1a" text-anchor="end" textLength="5.40" lengthAdjust="spacingAndGlyphs" stroke="#1a1a1a" stroke-width="0.24" stroke-linejoin="round" >0</text>
<text x="410.50" y="465.50" font-size="9.9" font-weight="normal" fill="#1a1a1a" text-anchor="middle" textLength="16.00" lengthAdjust="spacingAndGlyphs" stroke="#1a1a1a" stroke-width="0.22" stroke-linejoin="round" >JAN</text>
<text x="439.00" y="465.50" font-size="9.9" font-weight="normal" fill="#1a1a1a" text-anchor="middle" textLength="15.00" lengthAdjust="spacingAndGlyphs" stroke="#1a1a1a" stroke-width="0.22" stroke-linejoin="round" >FEB</text>
<text x="467.70" y="465.50" font-size="9.9" font-weight="normal" fill="#1a1a1a" text-anchor="middle" textLength="17.50" lengthAdjust="spacingAndGlyphs" stroke="#1a1a1a" stroke-width="0.22" stroke-linejoin="round" >MAR</text>
<text x="497.30" y="465.50" font-size="9.9" font-weight="normal" fill="#1a1a1a" text-anchor="middle" textLength="16.00" lengthAdjust="spacingAndGlyphs" stroke="#1a1a1a" stroke-width="0.22" stroke-linejoin="round" >APR</text>
<text x="526.50" y="465.50" font-size="9.9" font-weight="normal" fill="#1a1a1a" text-anchor="middle" textLength="17.00" lengthAdjust="spacingAndGlyphs" stroke="#1a1a1a" stroke-width="0.22" stroke-linejoin="round" >MAY</text>
<text x="556.20" y="465.50" font-size="9.9" font-weight="normal" fill="#1a1a1a" text-anchor="middle" textLength="16.00" lengthAdjust="spacingAndGlyphs" stroke="#1a1a1a" stroke-width="0.22" stroke-linejoin="round" >JUN</text>
<path d="M410.5,436.9 L439,420 L467.7,433.3 L497.3,418.8 L526.5,429.7 L556.2,411.6" fill="none" stroke="#4a9fd4" stroke-width="2.3" stroke-linejoin="round"/>
<circle cx="410.5" cy="436.9" r="2.9" fill="#fbfcfd" stroke="#4a9fd4" stroke-width="1.9"/>
<circle cx="439" cy="420" r="2.9" fill="#fbfcfd" stroke="#4a9fd4" stroke-width="1.9"/>
<circle cx="467.7" cy="433.3" r="2.9" fill="#fbfcfd" stroke="#4a9fd4" stroke-width="1.9"/>
<circle cx="497.3" cy="418.8" r="2.9" fill="#fbfcfd" stroke="#4a9fd4" stroke-width="1.9"/>
<circle cx="526.5" cy="429.7" r="2.9" fill="#fbfcfd" stroke="#4a9fd4" stroke-width="1.9"/>
<circle cx="556.2" cy="411.6" r="2.9" fill="#fbfcfd" stroke="#4a9fd4" stroke-width="1.9"/>
<path d="M410.5,445 L439,436 L467.7,424 L497.3,402.5 L526.5,417.7 L556.2,392.2" fill="none" stroke="#ee7d22" stroke-width="2.3" stroke-linejoin="round"/>
<circle cx="410.5" cy="445" r="2.9" fill="#fbfcfd" stroke="#ee7d22" stroke-width="1.9"/>
<circle cx="439" cy="436" r="2.9" fill="#fbfcfd" stroke="#ee7d22" stroke-width="1.9"/>
<circle cx="467.7" cy="424" r="2.9" fill="#fbfcfd" stroke="#ee7d22" stroke-width="1.9"/>
<circle cx="497.3" cy="402.5" r="2.9" fill="#fbfcfd" stroke="#ee7d22" stroke-width="1.9"/>
<circle cx="526.5" cy="417.7" r="2.9" fill="#fbfcfd" stroke="#ee7d22" stroke-width="1.9"/>
<circle cx="556.2" cy="392.2" r="2.9" fill="#fbfcfd" stroke="#ee7d22" stroke-width="1.9"/>
<path d="M398.2,478 L412.8,502 H383.6 Z" fill="#ee7a22" stroke="#1b3d61" stroke-width="2.6" stroke-linejoin="round"/>
<path d="M398.2,485.5 V494" stroke="#1b3d61" stroke-width="3.2" stroke-linecap="round"/><circle cx="398.2" cy="498.6" r="1.8" fill="#1b3d61"/>
<text x="420.20" y="488.80" font-size="14.2" font-weight="bold" fill="#101418" text-anchor="start" textLength="84.00" lengthAdjust="spacingAndGlyphs" stroke="#101418" stroke-width="0.50" stroke-linejoin="round" >UNDER-TESTED</text>
<text x="420.20" y="502.70" font-size="14.2" font-weight="bold" fill="#101418" text-anchor="start" textLength="50.00" lengthAdjust="spacingAndGlyphs" stroke="#101418" stroke-width="0.50" stroke-linejoin="round" >CLASSES</text>
<text x="515.40" y="501.00" font-size="27.5" font-weight="bold" fill="#ee7d22" text-anchor="start" textLength="43.80" lengthAdjust="spacingAndGlyphs" stroke="#ee7d22" stroke-width="0.96" stroke-linejoin="round" >80%</text>
<text x="620.80" y="269.50" font-size="16.2" font-weight="bold" fill="#fdf1de" text-anchor="start" textLength="123.00" lengthAdjust="spacingAndGlyphs" stroke="#fdf1de" stroke-width="0.57" stroke-linejoin="round" >STATIC ANALYSIS</text>
<text x="634.50" y="286.60" font-size="15.6" font-weight="bold" fill="#fdf1de" text-anchor="start" textLength="95.50" lengthAdjust="spacingAndGlyphs" stroke="#fdf1de" stroke-width="0.55" stroke-linejoin="round" >(TOOLING API)</text>
<g stroke="#1b3d61" stroke-width="1.5" stroke-linejoin="round">
<path d="M641,318.5 C662,318 664,346 649.5,356 L642.5,356 C654,345 652.5,327.5 640.5,326 Z" fill="#7fa5c5"/>
<rect x="612.2" y="356.2" width="46.8" height="7" rx="3.2" fill="#7fa5c5"/>
<path d="M634.5,356.2 C634.5,343.5 648.5,343.5 648.5,356.2 Z" fill="#7fa5c5"/><circle cx="641.5" cy="350.8" r="1.5" fill="#dfeaf3" stroke-width="1.1"/>
<path d="M616.6,336.2 L634.6,345.5 L632.8,348.6 L614.8,339.4 Z" fill="#7fa5c5"/>
<path d="M622.5,344.5 L633.5,350.3 L633,353 L624,350 Z" fill="#7fa5c5"/>
<g transform="translate(637,322.6) rotate(29)">
<rect x="-3.2" y="-20.5" width="6.4" height="5" fill="#a9cbe6"/>
<rect x="-4.6" y="-24" width="9.2" height="4.2" rx="1" fill="#7fa5c5"/>
<rect x="-5.6" y="-16" width="11.2" height="27" rx="1" fill="#a9cbe6"/>
<rect x="-3.4" y="11" width="6.8" height="5" fill="#a9cbe6"/>
</g>
<circle cx="643.6" cy="322.2" r="4.8" fill="#7fa5c5"/>
</g>
<path d="M664.5,336.6 H679.3" stroke="#ee7a22" stroke-width="3.2" fill="none"/>
<path d="M689.3,336.6 l-11,-6.5 v13.0 z" fill="#ee7a22"/>
<rect x="695.3" y="305.6" width="61.4" height="57.6" rx="3" fill="#42647f" stroke="#1b3d61" stroke-width="1.8"/>
<path d="M695.3,315.7 H756.7" stroke="#1b3d61" stroke-width="1.4"/>
<circle cx="700.5" cy="311" r="1.8" fill="#e86a5e"/><circle cx="706.7" cy="311" r="1.8" fill="#e2c94a"/><circle cx="712.6" cy="311" r="1.8" fill="#7cc356"/>
<path d="M705.3,322.8 L701.3,326 L705.3,329.2 M725.6,322.8 L729.6,326 L725.6,329.2" fill="none" stroke="#e9eef3" stroke-width="1.4" stroke-linecap="round" stroke-linejoin="round"/>
<rect x="708.4" y="323" width="15" height="6" rx="1" fill="#7a6a5e" stroke="#ee8a3a" stroke-width="1.4"/>
<path d="M712.9,334.3 H732.2" stroke="#ee8a3a" stroke-width="2" stroke-linecap="round"/>
<path d="M735.8,334.3 H749.4" stroke="#a9cde8" stroke-width="2" stroke-linecap="round"/>
<path d="M712.9,340.5 H730.8" stroke="#ee8a3a" stroke-width="2" stroke-linecap="round"/>
<path d="M735,340.5 H748.7" stroke="#a9cde8" stroke-width="2" stroke-linecap="round"/>
<path d="M712.9,346.2 H724.3" stroke="#ee8a3a" stroke-width="2" stroke-linecap="round"/>
<path d="M728,346.2 H734" stroke="#ee8a3a" stroke-width="2" stroke-linecap="round"/>
<path d="M737.3,346.2 H738.6" stroke="#ee8a3a" stroke-width="2" stroke-linecap="round"/>
<path d="M704.5,351.2 L701,354.4 L704.5,357.6 M712.3,351.2 L715.8,354.4 L712.3,357.6 M709.8,350.6 L707,358.2" fill="none" stroke="#e9eef3" stroke-width="1.3" stroke-linecap="round" stroke-linejoin="round"/>
<text x="599.40" y="379.60" font-size="14.2" font-weight="bold" fill="#101418" text-anchor="start" textLength="72.40" lengthAdjust="spacingAndGlyphs" stroke="#101418" stroke-width="0.50" stroke-linejoin="round" >MICROSCOPE</text>
<text x="685.50" y="379.60" font-size="14.2" font-weight="bold" fill="#101418" text-anchor="start" textLength="81.00" lengthAdjust="spacingAndGlyphs" stroke="#101418" stroke-width="0.50" stroke-linejoin="round" >CODE SNIPPET</text>
<text x="620.00" y="402.60" font-size="14.4" font-weight="bold" fill="#101418" text-anchor="start" textLength="123.30" lengthAdjust="spacingAndGlyphs" stroke="#101418" stroke-width="0.50" stroke-linejoin="round" >SymbolTable Queries</text>
<rect x="632" y="422" width="17.7" height="67.4" fill="#4fa3dc" stroke="#1b3d61" stroke-width="1.2"/>
<rect x="661.2" y="447.1" width="17.8" height="42.3" fill="#f0801f" stroke="#1b3d61" stroke-width="1.2"/>
<rect x="701.7" y="457.5" width="18.0" height="31.9" fill="#3d6587" stroke="#1b3d61" stroke-width="1.2"/>
<rect x="731.2" y="469.9" width="17.8" height="19.5" fill="#e2542a" stroke="#1b3d61" stroke-width="1.2"/>
<path d="M623.7,420.5 V489.4 H758" fill="none" stroke="#1b3d61" stroke-width="1.6"/>
<text x="618.40" y="424.80" font-size="10.6" font-weight="normal" fill="#222" text-anchor="end" textLength="16.60" lengthAdjust="spacingAndGlyphs" stroke="#222" stroke-width="0.23" stroke-linejoin="round" >300</text>
<text x="618.40" y="447.80" font-size="10.6" font-weight="normal" fill="#222" text-anchor="end" textLength="16.60" lengthAdjust="spacingAndGlyphs" stroke="#222" stroke-width="0.23" stroke-linejoin="round" >200</text>
<text x="618.40" y="470.80" font-size="10.6" font-weight="normal" fill="#222" text-anchor="end" textLength="16.60" lengthAdjust="spacingAndGlyphs" stroke="#222" stroke-width="0.23" stroke-linejoin="round" >100</text>
<text x="618.40" y="493.80" font-size="10.6" font-weight="normal" fill="#222" text-anchor="end" textLength="5.40" lengthAdjust="spacingAndGlyphs" stroke="#222" stroke-width="0.23" stroke-linejoin="round" >0</text>
<rect x="690.2" y="418.2" width="7.8" height="7.7" fill="#4fa3dc"/><rect x="690.2" y="433" width="7.8" height="7.4" fill="#e8601f"/>
<text x="702.60" y="427.30" font-size="13.6" font-weight="bold" fill="#101418" text-anchor="start" textLength="45.20" lengthAdjust="spacingAndGlyphs" stroke="#101418" stroke-width="0.48" stroke-linejoin="round" >UNUSED</text>
<text x="702.60" y="441.30" font-size="13.6" font-weight="bold" fill="#101418" text-anchor="start" textLength="55.20" lengthAdjust="spacingAndGlyphs" stroke="#101418" stroke-width="0.48" stroke-linejoin="round" >METHODS</text>
<text x="630.80" y="505.30" font-size="12.4" font-weight="bold" fill="#101418" text-anchor="start" textLength="48.40" lengthAdjust="spacingAndGlyphs" stroke="#101418" stroke-width="0.43" stroke-linejoin="round" >METHODS</text>
<text x="697.50" y="505.30" font-size="12.4" font-weight="bold" fill="#101418" text-anchor="start" textLength="56.20" lengthAdjust="spacingAndGlyphs" stroke="#101418" stroke-width="0.43" stroke-linejoin="round" >DEAD CODE</text>
<text x="754.00" y="104.60" font-size="16" font-weight="bold" fill="#f7fbfe" text-anchor="start" textLength="196.00" lengthAdjust="spacingAndGlyphs" stroke="#f7fbfe" stroke-width="0.56" stroke-linejoin="round" >SECURITY GAPS: PROFILE &amp;</text>
<text x="731.00" y="122.00" font-size="16" font-weight="bold" fill="#f7fbfe" text-anchor="start" textLength="246.80" lengthAdjust="spacingAndGlyphs" stroke="#f7fbfe" stroke-width="0.56" stroke-linejoin="round" >PERMISSION SETS (METADATA API)</text>
<g fill="none" stroke-linecap="round" stroke-linejoin="round">
<path d="M701.7,97 L698.6,107.5 M705.3,106.8 L701.4,116.8 M717.4,106.8 L721.7,116.8 M721.3,97 L724.1,107.2" stroke="#ffffff" stroke-opacity="0.55" stroke-width="4.8"/>
<path d="M703,96.4 L711.4,108.8 L720,96.4" stroke="#ffffff" stroke-width="5.2"/>
</g>
<path d="M741.9,140.9 H780.0999999999999 L792.6999999999999,153.5 V202.2 A3,3 0 0 1 789.6999999999999,205.2 H741.9 A3,3 0 0 1 738.9,202.2 V143.9 A3,3 0 0 1 741.9,140.9 Z" fill="#eef3f8" stroke="#1b3d61" stroke-width="1.9" stroke-linejoin="round"/>
<path d="M780.0999999999999,140.9 V151.5 A2,2 0 0 0 782.0999999999999,153.5 H792.6999999999999 Z" fill="#6fa4d2" stroke="#1b3d61" stroke-width="1.6" stroke-linejoin="round"/>
<path d="M752.6999999999999,151.00000000000003 L745.6999999999999,156.20000000000002 L752.6999999999999,161.4 M762.3,151.00000000000003 L769.3,156.20000000000002 L762.3,161.4 M759.9999999999999,149.20000000000002 L754.9999999999999,163.20000000000002" fill="none" stroke="#3d6587" stroke-width="2.1" stroke-linecap="round" stroke-linejoin="round"/>
<path d="M746.9,170.3 H785.5" stroke="#8fb1cf" stroke-width="2.5"/>
<rect x="746.9" y="175.10000000000002" width="3" height="2.4" fill="#8fb1cf"/><path d="M752.9,176.3 H785.5" stroke="#8fb1cf" stroke-width="2.5"/>
<rect x="746.9" y="181.20000000000002" width="3" height="2.4" fill="#8fb1cf"/><path d="M752.9,182.4 H785.5" stroke="#8fb1cf" stroke-width="2.5"/>
<rect x="746.9" y="186.8" width="3" height="2.4" fill="#8fb1cf"/><path d="M752.9,188.0 H785.5" stroke="#8fb1cf" stroke-width="2.5"/>
<path d="M746.9,194.2 H762.9" stroke="#8fb1cf" stroke-width="2.5"/>
<ellipse cx="767.9" cy="194.2" rx="2.6" ry="2.1" fill="#ee7a22"/>
<path d="M807.7,178 H850.3" stroke="#ee7a22" stroke-width="3.2" fill="none"/>
<path d="M859.8,178 l-10.5,-6.3 v12.6 z" fill="#ee7a22"/>
<path d="M876.9,140.9 H915.0999999999999 L927.6999999999999,153.5 V202.2 A3,3 0 0 1 924.6999999999999,205.2 H876.9 A3,3 0 0 1 873.9,202.2 V143.9 A3,3 0 0 1 876.9,140.9 Z" fill="#eef3f8" stroke="#1b3d61" stroke-width="1.9" stroke-linejoin="round"/>
<path d="M915.0999999999999,140.9 V151.5 A2,2 0 0 0 917.0999999999999,153.5 H927.6999999999999 Z" fill="#6fa4d2" stroke="#1b3d61" stroke-width="1.6" stroke-linejoin="round"/>
<path d="M887.6999999999999,151.00000000000003 L880.6999999999999,156.20000000000002 L887.6999999999999,161.4 M897.3,151.00000000000003 L904.3,156.20000000000002 L897.3,161.4 M894.9999999999999,149.20000000000002 L889.9999999999999,163.20000000000002" fill="none" stroke="#3d6587" stroke-width="2.1" stroke-linecap="round" stroke-linejoin="round"/>
<path d="M881.9,170.3 H920.5" stroke="#8fb1cf" stroke-width="2.5"/>
<path d="M881.9,176.3 H918.34" stroke="#8fb1cf" stroke-width="2.5"/>
<path d="M881.9,182.4 H915.9" stroke="#8fb1cf" stroke-width="2.5"/>
<path d="M881.9,188.0 H913.66" stroke="#8fb1cf" stroke-width="2.5"/>
<path d="M881.9,194.2 H897.9" stroke="#8fb1cf" stroke-width="2.5"/>
<path d="M917.51,183 V175.04 A7.44,7.44 0 0 1 932.39,175.04 V183" fill="none" stroke="#fbfcfd" stroke-width="10.0"/>
<rect x="908.7" y="180.2" width="32.5" height="25.8" rx="5.0" fill="#fbfcfd"/>
<path d="M917.51,183 V175.04 A7.44,7.44 0 0 1 932.39,175.04 V183" fill="none" stroke="#1b3d61" stroke-width="6.4"/>
<path d="M917.51,183 V175.04 A7.44,7.44 0 0 1 932.39,175.04 V183" fill="none" stroke="#86a9c9" stroke-width="3.20"/>
<path d="M917.11,176.04 A7.44,7.44 0 0 1 927.18,167.00" fill="none" stroke="#b9d0e4" stroke-width="1.28" opacity="0.8"/>
<rect x="910.5" y="182" width="28.9" height="22.2" rx="3.2" fill="#ef7d22" stroke="#1b3d61" stroke-width="1.9"/>
<path d="M927.262,183.2 H936.9 Q938.1999999999999,183.2 938.1999999999999,184.5 V201.7 Q938.1999999999999,203.0 936.9,203.0 H931.886 Z" fill="#e55f20" opacity="0.6"/>
<circle cx="924.95" cy="190.21" r="2.7" fill="#1b3d61"/><path d="M923.60,190.21 L923.01,198.04 H926.89 L926.30,190.21 Z" fill="#1b3d61"/>
<text x="728.60" y="223.60" font-size="14.2" font-weight="bold" fill="#101418" text-anchor="start" textLength="74.40" lengthAdjust="spacingAndGlyphs" stroke="#101418" stroke-width="0.50" stroke-linejoin="round" >PROFILE XML</text>
<text x="861.80" y="223.60" font-size="14.2" font-weight="bold" fill="#101418" text-anchor="start" textLength="88.80" lengthAdjust="spacingAndGlyphs" stroke="#101418" stroke-width="0.50" stroke-linejoin="round" >SECURITY LOCK</text>
<text x="823.50" y="244.30" font-size="12.2" font-weight="bold" fill="#1a1d22" text-anchor="start" textLength="132.50" lengthAdjust="spacingAndGlyphs" stroke="#1a1d22" stroke-width="0.43" stroke-linejoin="round" >(FIELD-LEVEL SECURITY NOT</text>
<text x="805.50" y="256.30" font-size="12.2" font-weight="bold" fill="#1a1d22" text-anchor="start" textLength="169.50" lengthAdjust="spacingAndGlyphs" stroke="#1a1d22" stroke-width="0.43" stroke-linejoin="round" >FULLY QUERYABLE VIA TOOLING API)</text>
<text x="817.00" y="270.50" font-size="13.8" font-weight="bold" fill="#101418" text-anchor="start" textLength="145.50" lengthAdjust="spacingAndGlyphs" stroke="#101418" stroke-width="0.48" stroke-linejoin="round" >RETRIEVALS FOR FLS GAPS</text>
<path d="M814.3,278.8 H847.3 L859.3,290.8 V334.5 A3,3 0 0 1 856.3,337.5 H814.3 A3,3 0 0 1 811.3,334.5 V281.8 A3,3 0 0 1 814.3,278.8 Z" fill="#eef3f8" stroke="#1b3d61" stroke-width="1.9" stroke-linejoin="round"/>
<path d="M847.3,278.8 V288.8 A2,2 0 0 0 849.3,290.8 H859.3 Z" fill="#6fa4d2" stroke="#1b3d61" stroke-width="1.6" stroke-linejoin="round"/>
<path d="M829.10,312 V306.00 A6.40,6.40 0 0 1 841.90,306.00 V312" fill="none" stroke="#1b3d61" stroke-width="5.6"/>
<path d="M829.10,312 V306.00 A6.40,6.40 0 0 1 841.90,306.00 V312" fill="none" stroke="#86a9c9" stroke-width="2.40"/>
<path d="M828.70,307.00 A6.40,6.40 0 0 1 837.42,299.00" fill="none" stroke="#b9d0e4" stroke-width="0.96" opacity="0.8"/>
<rect x="823" y="311" width="25" height="19.2" rx="2.8" fill="#ef7d22" stroke="#1b3d61" stroke-width="1.9"/>
<path d="M837.5,312.2 H845.5 Q846.8,312.2 846.8,313.5 V327.7 Q846.8,329.0 845.5,329.0 H841.5 Z" fill="#e55f20" opacity="0.6"/>
<circle cx="835.5" cy="318.10" r="2.7" fill="#1b3d61"/><path d="M834.15,318.10 L833.56,325.93 H837.44 L836.85,318.10 Z" fill="#1b3d61"/>
<path d="M873,309 H894.8" stroke="#ee7a22" stroke-width="3.1" fill="none"/>
<path d="M904.3,309 l-10.5,-6.2 v12.4 z" fill="#ee7a22"/>
<path d="M920.2,278.8 H953.0 L965.0,290.8 V334.5 A3,3 0 0 1 962.0,337.5 H920.2 A3,3 0 0 1 917.2,334.5 V281.8 A3,3 0 0 1 920.2,278.8 Z" fill="#eef3f8" stroke="#1b3d61" stroke-width="1.9" stroke-linejoin="round"/>
<path d="M953.0,278.8 V288.8 A2,2 0 0 0 955.0,290.8 H965.0 Z" fill="#6fa4d2" stroke="#1b3d61" stroke-width="1.6" stroke-linejoin="round"/>
<path d="M934.50,312 V306.00 A6.40,6.40 0 0 1 947.30,306.00 V312" fill="none" stroke="#1b3d61" stroke-width="5.6"/>
<path d="M934.50,312 V306.00 A6.40,6.40 0 0 1 947.30,306.00 V312" fill="none" stroke="#86a9c9" stroke-width="2.40"/>
<path d="M934.10,307.00 A6.40,6.40 0 0 1 942.82,299.00" fill="none" stroke="#b9d0e4" stroke-width="0.96" opacity="0.8"/>
<rect x="928.4" y="311" width="25" height="19.2" rx="2.8" fill="#ef7d22" stroke="#1b3d61" stroke-width="1.9"/>
<path d="M942.9,312.2 H950.9 Q952.1999999999999,312.2 952.1999999999999,313.5 V327.7 Q952.1999999999999,329.0 950.9,329.0 H946.9 Z" fill="#e55f20" opacity="0.6"/>
<circle cx="940.9" cy="318.10" r="2.7" fill="#1b3d61"/><path d="M939.55,318.10 L938.96,325.93 H942.84 L942.25,318.10 Z" fill="#1b3d61"/>
<text x="844.00" y="353.90" font-size="13.6" font-weight="bold" fill="#101418" text-anchor="start" textLength="89.00" lengthAdjust="spacingAndGlyphs" stroke="#101418" stroke-width="0.48" stroke-linejoin="round" >RETRIEVAL, FLS</text>
<text x="868.50" y="369.50" font-size="13.6" font-weight="bold" fill="#101418" text-anchor="start" textLength="42.50" lengthAdjust="spacingAndGlyphs" stroke="#101418" stroke-width="0.48" stroke-linejoin="round" >&amp; GAPS</text>
<path d="M942.2,345 V375 A8,8 0 0 1 934.2,383 H845 A9,9 0 0 0 836,392 V404" fill="none" stroke="#6bb0df" stroke-width="2.6"/>
<path d="M829,402 H843 L836,414 Z" fill="#6bb0df"/>
<path d="M888.8,383 V394" stroke="#6bb0df" stroke-width="1.4"/><path d="M885.8,393 H891.8 L888.8,398.5 Z" fill="#6bb0df"/>
<text x="860.50" y="413.00" font-size="14.2" font-weight="bold" fill="#101418" text-anchor="start" textLength="55.00" lengthAdjust="spacingAndGlyphs" stroke="#101418" stroke-width="0.50" stroke-linejoin="round" >ANALYSIS</text>
<path d="M824.00,443.3 V436.25 A12.50,12.50 0 0 1 849.00,436.25 V443.3" fill="none" stroke="#1b3d61" stroke-width="8.7"/>
<path d="M824.00,443.3 V436.25 A12.50,12.50 0 0 1 849.00,436.25 V443.3" fill="none" stroke="#86a9c9" stroke-width="5.50"/>
<path d="M823.60,437.25 A12.50,12.50 0 0 1 840.25,423.15" fill="none" stroke="#b9d0e4" stroke-width="2.20" opacity="0.8"/>
<rect x="813.6" y="442.3" width="45.8" height="31.4" rx="5.0" fill="#ef7d22" stroke="#1b3d61" stroke-width="2.3"/>
<path d="M840.164,443.5 H856.9 Q858.1999999999999,443.5 858.1999999999999,444.8 V471.2 Q858.1999999999999,472.5 856.9,472.5 H847.492 Z" fill="#e55f20" opacity="0.6"/>
<circle cx="836.5" cy="453.92" r="4.4" fill="#1b3d61"/><path d="M834.30,453.92 L833.33,466.68 H839.67 L838.70,453.92 Z" fill="#1b3d61"/>
<path d="M869,455.5 H895.8" stroke="#ee7a22" stroke-width="3.2" fill="none"/>
<path d="M906.3,455.5 l-11.5,-6.6 v13.2 z" fill="#ee7a22"/>
<path d="M925.00,443.3 V436.25 A12.50,12.50 0 0 1 950.00,436.25 V443.3" fill="none" stroke="#1b3d61" stroke-width="8.7"/>
<path d="M925.00,443.3 V436.25 A12.50,12.50 0 0 1 950.00,436.25 V443.3" fill="none" stroke="#86a9c9" stroke-width="5.50"/>
<path d="M924.60,437.25 A12.50,12.50 0 0 1 941.25,423.15" fill="none" stroke="#b9d0e4" stroke-width="2.20" opacity="0.8"/>
<rect x="914.6" y="442.3" width="45.8" height="31.4" rx="5.0" fill="#ef7d22" stroke="#1b3d61" stroke-width="2.3"/>
<path d="M941.164,443.5 H957.9 Q959.1999999999999,443.5 959.1999999999999,444.8 V471.2 Q959.1999999999999,472.5 957.9,472.5 H948.492 Z" fill="#e55f20" opacity="0.6"/>
<circle cx="937.5" cy="453.92" r="4.4" fill="#1b3d61"/><path d="M935.30,453.92 L934.33,466.68 H940.67 L939.70,453.92 Z" fill="#1b3d61"/>
<text x="809.00" y="490.00" font-size="14" font-weight="bold" fill="#101418" text-anchor="start" textLength="54.50" lengthAdjust="spacingAndGlyphs" stroke="#101418" stroke-width="0.49" stroke-linejoin="round" >SECURITY</text>
<text x="822.50" y="504.80" font-size="14" font-weight="bold" fill="#101418" text-anchor="start" textLength="28.50" lengthAdjust="spacingAndGlyphs" stroke="#101418" stroke-width="0.49" stroke-linejoin="round" >LOCK</text>
<text x="910.00" y="490.00" font-size="14" font-weight="bold" fill="#101418" text-anchor="start" textLength="54.00" lengthAdjust="spacingAndGlyphs" stroke="#101418" stroke-width="0.49" stroke-linejoin="round" >SECURITY</text>
<text x="923.00" y="504.80" font-size="14" font-weight="bold" fill="#101418" text-anchor="start" textLength="28.80" lengthAdjust="spacingAndGlyphs" stroke="#101418" stroke-width="0.49" stroke-linejoin="round" >LOCK</text>
<path d="M21.6,537.3 C24,539.2 26.5,539.8 28.6,539.8 V545.5 C28.6,549 25.5,551.6 21.6,552.9 C17.7,551.6 14.6,549 14.6,545.5 V539.8 C16.7,539.8 19.2,539.2 21.6,537.3 Z" fill="#5fb9ab"/>
<path d="M18.4,545.2 L20.8,547.7 L25,542.7" fill="none" stroke="#123050" stroke-width="1.8" stroke-linecap="round" stroke-linejoin="round"/>
<text x="35.00" y="550.60" font-size="13.4" font-weight="normal" fill="#dde5ee" text-anchor="start" textLength="90.20" lengthAdjust="spacingAndGlyphs" stroke="#dde5ee" stroke-width="0.29" stroke-linejoin="round" >SYSTEM HEALTH</text>
<circle cx="137.5" cy="545.9" r="6" fill="#7cc14b"/>
<text x="148.90" y="550.60" font-size="13.4" font-weight="bold" fill="#86c35c" text-anchor="start" textLength="22.30" lengthAdjust="spacingAndGlyphs" stroke="#86c35c" stroke-width="0.47" stroke-linejoin="round" >80%</text>
<g fill="none" stroke="#8cc0ea" stroke-width="2" stroke-linecap="round">
<path d="M843.5,544 A5.8,5.8 0 0 1 853.6,541.8"/><path d="M854.5,547 A5.8,5.8 0 0 1 844.4,549.2"/></g>
<path d="M855.6,538.6 V543.8 H850.4 Z" fill="#8cc0ea"/><path d="M842.4,552.4 V547.2 H847.6 Z" fill="#8cc0ea"/>
<text x="862.50" y="550.70" font-size="13.4" font-weight="normal" fill="#dde5ee" text-anchor="start" textLength="145.50" lengthAdjust="spacingAndGlyphs" stroke="#dde5ee" stroke-width="0.29" stroke-linejoin="round" >LAST SYNC: 1/20/2023 23:45</text>
<path d="M983.5,500 C985,512 989,516.5 1001.5,519 C989,521.5 985,526 983.5,538 C982,526 978,521.5 965.5,519 C978,516.5 982,512 983.5,500 Z" fill="#dbe6ef" opacity="0.8"/>
</svg>
</body></html>
